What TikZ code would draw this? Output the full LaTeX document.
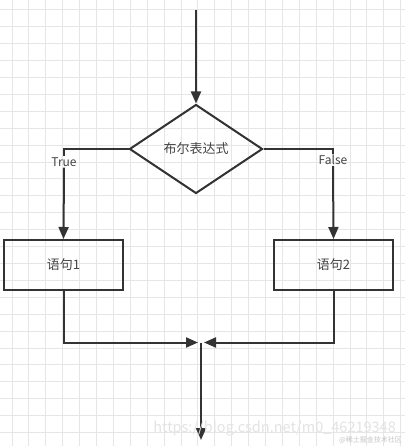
\documentclass[tikz,border=0pt]{standalone}
\usepackage{fontspec}
\setmainfont{Noto Sans CJK SC}
\usetikzlibrary{shapes.geometric,arrows.meta}
\definecolor{txt}{HTML}{444444}
\definecolor{ln}{HTML}{333333}
\definecolor{gridc}{HTML}{E6E6E6}
\begin{document}
\begin{tikzpicture}[x=1pt,y=-1pt,
  flow/.style={draw=ln,line width=2pt},
  arr/.style={flow,-{Triangle[length=12pt,width=10pt]}},
  stmt/.style={draw=ln,line width=2pt,rectangle,minimum width=119pt,minimum height=50pt,inner sep=0pt,font=\fontsize{13pt}{15pt}\selectfont,text=txt},
  cond/.style={draw=ln,line width=2pt,diamond,minimum width=133pt,minimum height=89pt,inner sep=0pt,font=\fontsize{13pt}{15pt}\selectfont,text=txt},
  lab/.style={inner sep=1pt,font=\fontsize{12pt}{14pt}\selectfont,text=txt},
  wm/.style={text=gray!22,inner sep=0pt}]
\fill[white] (0,0) rectangle (405,446);
\useasboundingbox (0,0) rectangle (405,446);
% grid
\foreach \i in {0,...,23} {\draw[gridc,line width=1pt] (12+16.9*\i,0) -- (12+16.9*\i,446);}
\foreach \j in {0,...,26} {\draw[gridc,line width=1pt] (0,10+16.9*\j) -- (405,10+16.9*\j);}
% nodes
\coordinate (start) at (196,10);
\node[cond] (d) at (196,149) {布尔表达式};
\node[lab] (t) at (64,162) {True};
\node[lab] (f) at (333,160) {False};
\node[stmt] (b1) at (63.5,265) {语句1};
\node[stmt] (b2) at (333.5,265) {语句2};
\coordinate (m) at (201,342.5);
\coordinate (end) at (201,440);
% connectors
\draw[arr] (start) -- (d.north);
\draw[flow] (d.west) -| (t.north);
\draw[arr] (t.south) -- (b1.north);
\draw[flow] (d.east) -| (f.north);
\draw[arr] (f.south) -- (b2.north);
\draw[arr,shorten >=3pt] (b1.south) |- (m);
\draw[arr,shorten >=3pt] (b2.south) |- (m);
\draw[arr] (m) -- (end);
% watermark
\node[wm,anchor=base east,font=\fontsize{14.5pt}{16pt}\selectfont] (w1) at (396,432) {https://blog.csdn.net/m0\_46219348};
\node[wm,anchor=base east,text=gray!45,font=\fontsize{7pt}{8pt}\selectfont] (w2) at (402,442) {@稀土掘金技术社区};
\end{tikzpicture}
\end{document}
